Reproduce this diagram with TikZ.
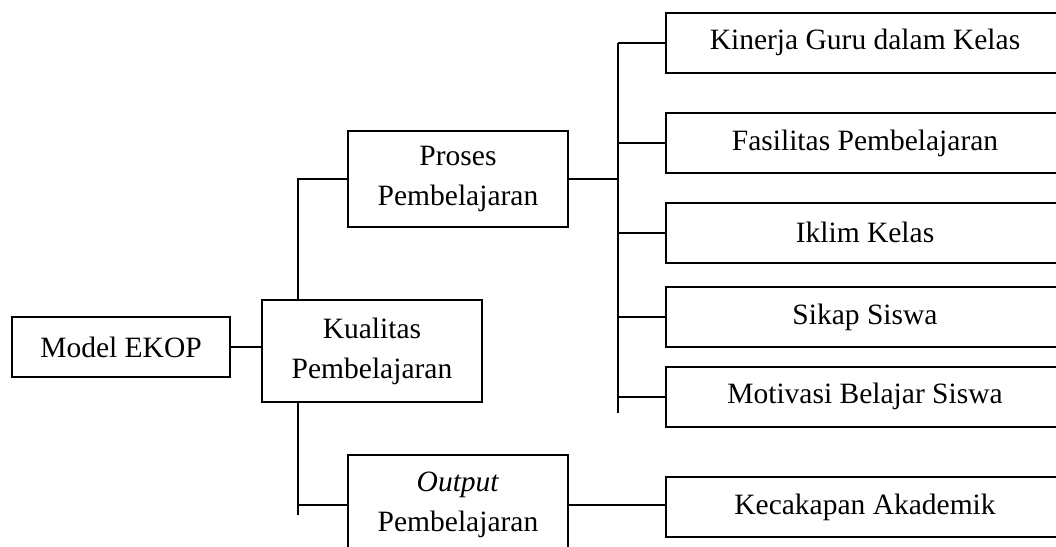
\documentclass[tikz,border=0pt]{standalone}
\usepackage{fontspec}
\setmainfont{Liberation Serif}
\begin{document}
\begin{tikzpicture}[x=1pt,y=-1pt,
  box/.style={draw, line width=2pt, inner sep=0pt, align=center,
    font=\fontsize{29.5}{40}\selectfont},
  leafbox/.style={box, minimum width=398pt, minimum height=60pt},
  midbox/.style={box, minimum width=220pt, minimum height=96pt},
  conn/.style={line width=2pt}]
\useasboundingbox (0,0) rectangle (1056,546);
\clip (0,0) rectangle (1056,546);
\node[box, minimum width=218pt, minimum height=60pt] (model) at (121,347) {Model EKOP};
\node[box, minimum width=220pt, minimum height=102pt] (kual) at (372,351) {Kualitas\\Pembelajaran};
\node[midbox] (proses) at (458,179) {Proses\\Pembelajaran};
\node[box, minimum width=220pt, minimum height=100pt] (out) at (458,505) {\textit{Output}\\Pembelajaran};
\node[leafbox] (k1) at (865,42.5) {Kinerja Guru dalam Kelas};
\node[leafbox] (k2) at (865,143) {Fasilitas Pembelajaran};
\node[leafbox] (k3) at (865,232.5) {Iklim Kelas};
\node[leafbox] (k4) at (865,317) {Sikap Siswa};
\node[leafbox] (k5) at (865,396.5) {Motivasi Belajar Siswa};
\node[leafbox] (k6) at (865,507) {Kecakapan Akademik};
\coordinate (trunk) at (298,0);
\coordinate (bus) at (618,0);
\coordinate (tail) at (298,515);
\coordinate (busend) at (618,413);
\draw[conn] (model.east) -- (model.east -| kual.west);
\draw[conn] (kual.north -| trunk) |- (proses.west);
\draw[conn] (kual.south -| trunk) -- (tail);
\draw[conn] (trunk |- out.west) -- (out.west);
\draw[conn] (proses.east) -- (proses.east -| bus);
\draw[conn] (bus |- k1.west) -- (busend);
\foreach \k in {k1,k2,k3,k4,k5} \draw[conn] (bus |- \k.west) -- (\k.west);
\draw[conn] (out.east) -- (out.east -| k6.west);
\end{tikzpicture}
\end{document}
